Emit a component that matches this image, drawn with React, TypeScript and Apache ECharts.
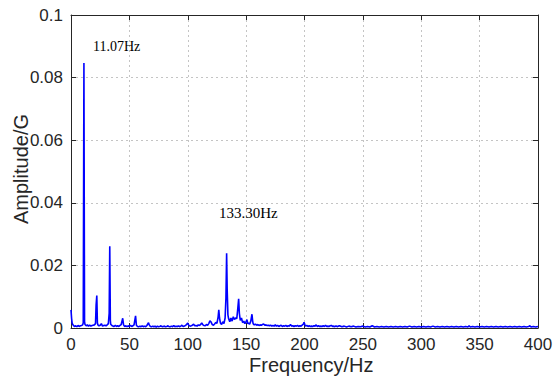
import React, { useEffect, useRef } from "react";
import * as echarts from "echarts";

// Spectrum: [frequency Hz, amplitude G]
const bandLow: [number, number][] = [
  [0, 0.0058], [0.5, 0.0031], [1, 0.0015], [2, 0.0008], [3, 0.0005], [4, 0.0007], [5, 0.0004],
  [6, 0.0008], [7, 0.0005], [8, 0.0007], [9, 0.0008], [10, 0.001], [10.5, 0.0017],
  [11.07, 0.0847], [11.6, 0.002], [12, 0.0011], [13, 0.0007], [14, 0.001], [15, 0.0006],
  [16, 0.0009], [17, 0.0006], [18, 0.0008], [19, 0.0009], [20, 0.001], [21, 0.0014],
  [21.5, 0.0073], [22.1, 0.0104], [22.6, 0.0017], [23, 0.001], [24, 0.0007], [25, 0.0009],
  [26, 0.0014], [27, 0.0006], [28, 0.0008], [29, 0.0009], [30, 0.0007], [31, 0.001],
  [32, 0.0014], [32.7, 0.0047], [33.2, 0.0261], [33.7, 0.0024], [34, 0.0012], [35, 0.0008],
  [36, 0.0006], [37, 0.0005], [38, 0.0008], [39, 0.0005], [40, 0.0007], [41, 0.0005],
  [42, 0.0008], [43, 0.0011], [44.3, 0.0031], [45, 0.001], [46, 0.0005], [47, 0.0007],
  [48, 0.0004], [49, 0.0007], [50, 0.0005], [51, 0.0008], [52, 0.0005], [53, 0.0007],
  [54, 0.001], [55.3, 0.0039], [56, 0.0009], [57, 0.0005], [58, 0.0004], [59, 0.0006],
  [60, 0.0004], [61, 0.0007], [62, 0.0004], [63, 0.0006], [64, 0.0004], [65, 0.0008],
  [66.4, 0.0017], [67, 0.001], [68, 0.0005], [69, 0.0004], [70, 0.0006],
];

const bandMid: [number, number][] = [
  [71, 0.0004], [72, 0.0006], [73, 0.0003], [74, 0.0006], [75, 0.0004], [76, 0.0005],
  [77, 0.0007], [78, 0.0004], [79, 0.0005], [80, 0.0006], [81, 0.0004], [82, 0.0005],
  [83, 0.0007], [84, 0.0004], [85, 0.0004], [86, 0.0006], [87, 0.0004], [88, 0.0008],
  [89, 0.0004], [90, 0.0006], [91, 0.0004], [92, 0.0007], [93, 0.0004], [94, 0.0006],
  [95, 0.0009], [96, 0.0005], [97, 0.0006], [98, 0.0008], [99, 0.0011], [100, 0.0016],
  [101, 0.0008], [102, 0.0006], [103, 0.0007], [104, 0.0009], [105, 0.0012], [106, 0.0007],
  [107, 0.0008], [108, 0.0006], [109, 0.001], [110, 0.0008], [111, 0.0011], [112, 0.0016],
  [113, 0.001], [114, 0.0008], [115, 0.0007], [116, 0.0011], [117, 0.0009], [118, 0.0014],
  [119, 0.0023], [120, 0.0019], [121, 0.0011], [122, 0.0009], [123, 0.0013], [124, 0.0018],
  [125, 0.0015], [126, 0.0035], [126.6, 0.0058], [127.2, 0.0032], [128, 0.0016], [129, 0.0011],
  [130, 0.002], [131, 0.0014], [132, 0.0032], [132.7, 0.0095], [133.3, 0.0239], [133.8, 0.012],
  [134.4, 0.0042], [135, 0.003], [136, 0.002], [137, 0.0032], [138, 0.0022], [139, 0.0036],
  [140, 0.0027], [141, 0.0032], [142, 0.003], [142.8, 0.006], [143.6, 0.0093], [144.2, 0.0047],
  [145, 0.0024], [146, 0.0032], [147, 0.0017], [148, 0.0022], [149, 0.0014], [150, 0.002],
  [150.7, 0.0027], [151.5, 0.0013], [152, 0.0016], [153, 0.0012], [154, 0.0022], [155, 0.0044],
  [155.6, 0.0022], [156, 0.0014], [157, 0.001], [158, 0.0012], [159, 0.0009], [160, 0.0011],
  [161, 0.0008], [162, 0.001], [163, 0.0009], [164, 0.0011], [165, 0.0013], [166, 0.0009],
  [167, 0.001], [168, 0.0008], [169, 0.0009], [170, 0.0007],
];

const bandHigh: [number, number][] = [
  [171, 0.0009], [172, 0.0006], [173, 0.0008], [174, 0.0006], [175, 0.001], [176, 0.0006],
  [177, 0.0008], [178, 0.0005], [179, 0.0007], [180, 0.0009], [181, 0.0005], [182, 0.0007],
  [183, 0.0006], [184, 0.0008], [185, 0.0005], [186, 0.0007], [187, 0.0006], [188, 0.0011],
  [189, 0.0006], [190, 0.0007], [191, 0.0005], [192, 0.0007], [193, 0.0006], [194, 0.0008],
  [195, 0.0005], [196, 0.0007], [197, 0.0006], [198, 0.0009], [199, 0.0012], [199.6, 0.0018],
  [200.3, 0.0011], [201, 0.0006], [202, 0.0008], [203, 0.0005], [204, 0.0007], [205, 0.0005],
  [206, 0.0006], [207, 0.0005], [208, 0.0007], [209, 0.0006], [210, 0.001], [211, 0.0005],
  [212, 0.0007], [213, 0.0005], [214, 0.0006], [215, 0.0005], [216, 0.0007], [217, 0.0005],
  [218, 0.0009], [219, 0.0005], [220, 0.0006], [221, 0.0005], [222, 0.0007], [223, 0.0008],
  [224, 0.0005], [225, 0.0006], [226, 0.0004], [227, 0.0007], [228, 0.0004], [229, 0.0006],
  [230, 0.0007], [232, 0.0004], [234, 0.0006], [236, 0.0003], [238, 0.0006], [240, 0.0004],
  [242, 0.0006], [244, 0.0003], [246, 0.0005], [248, 0.0004], [250, 0.0006], [252, 0.0003],
  [254, 0.0005], [256, 0.0003], [258, 0.0007], [260, 0.0003], [262, 0.0005], [264, 0.0003],
  [266, 0.0005], [268, 0.0003], [270, 0.0005], [272, 0.0003], [274, 0.0005], [276, 0.0003],
  [278, 0.0005], [280, 0.0003], [282, 0.0005], [284, 0.0003], [286, 0.0005], [288, 0.0003],
  [290, 0.0006], [292, 0.0003], [294, 0.0005], [296, 0.0003], [298, 0.0005], [300, 0.0003],
  [302, 0.0005], [304, 0.0003], [306, 0.0005], [308, 0.0003], [310, 0.0006], [312, 0.0003],
  [314, 0.0005], [316, 0.0003], [318, 0.0005], [320, 0.0003], [322, 0.0005], [324, 0.0003],
  [326, 0.0005], [328, 0.0003], [330, 0.0005], [332, 0.0003], [334, 0.0005], [336, 0.0003],
  [338, 0.0005], [340, 0.0003], [341, 0.0007], [342, 0.0003], [344, 0.0005], [346, 0.0003],
  [348, 0.0005], [350, 0.0003], [352, 0.0005], [354, 0.0003], [356, 0.0005], [358, 0.0003],
  [360, 0.0005], [362, 0.0003], [364, 0.0005], [366, 0.0003], [368, 0.0005], [370, 0.0003],
  [372, 0.0005], [374, 0.0003], [376, 0.0005], [378, 0.0003], [380, 0.0005], [382, 0.0003],
  [384, 0.0005], [386, 0.0003], [388, 0.0005], [390, 0.0003], [392, 0.0005], [393, 0.0007],
  [394, 0.0003], [396, 0.0005], [398, 0.0003], [400, 0.0005],
];

const peakLabels: { text: string; coord: [number, number]; size: number }[] = [
  { text: "11.07Hz", coord: [18.8, 0.0898], size: 14 },
  { text: "133.30Hz", coord: [126.8, 0.0367], size: 15 },
];

const xTicks = { min: 0, max: 400, interval: 50 };
const yTicks = { min: 0, max: 0.1, interval: 0.02 };

const axisColor = "#262626";
const sans = "Liberation Sans, Arial, sans-serif";

export default function App() {
  const ref = useRef<HTMLDivElement>(null);
  useEffect(() => {
    document.body.style.margin = "0";
    if (!ref.current) return;
    const chart = echarts.init(ref.current, null, { renderer: "svg" });
    const fmtY = (v: number) => String(parseFloat(v.toFixed(4)));
    const gridLine = { show: true, lineStyle: { color: "#c4c4c4", type: [2, 3] as number[], width: 1 } };
    const tick = { show: true, inside: true, length: 5, lineStyle: { color: axisColor } };
    chart.setOption({
      animation: false,
      backgroundColor: "#ffffff",
      grid: { left: 71, right: 20, top: 15, bottom: 54, containLabel: false },
      xAxis: [
        {
          type: "value", ...xTicks, position: "bottom",
          axisLine: { show: true, lineStyle: { color: axisColor } },
          axisTick: tick, splitLine: gridLine,
          axisLabel: { color: "#262626", fontFamily: sans, fontSize: 17, margin: 8 },
        },
        {
          type: "value", ...xTicks, position: "top",
          axisLine: { show: true, onZero: false, lineStyle: { color: axisColor } },
          axisTick: tick, splitLine: { show: false }, axisLabel: { show: false },
        },
      ],
      yAxis: [
        {
          type: "value", ...yTicks, position: "left",
          axisLine: { show: true, lineStyle: { color: axisColor } },
          axisTick: tick, splitLine: gridLine,
          axisLabel: { color: "#262626", fontFamily: sans, fontSize: 17, margin: 8, formatter: fmtY },
        },
        {
          type: "value", ...yTicks, position: "right",
          axisLine: { show: true, onZero: false, lineStyle: { color: axisColor } },
          axisTick: tick, splitLine: { show: false }, axisLabel: { show: false },
        },
      ],
      series: [
        {
          type: "line",
          xAxisIndex: 0, yAxisIndex: 0,
          data: [...bandLow, ...bandMid, ...bandHigh],
          showSymbol: false, symbol: "none",
          lineStyle: { color: "#0000ff", width: 1.6 },
          markPoint: {
            symbol: "circle", symbolSize: 0,
            data: peakLabels.map((p) => ({
              coord: p.coord,
              label: {
                show: true, formatter: p.text, position: [0, 0], align: "left", verticalAlign: "middle",
                fontFamily: "Liberation Serif, Times New Roman, serif", fontSize: p.size, color: "#000",
              },
            })),
          },
        },
      ],
      graphic: [
        {
          type: "text", left: 249, top: 355,
          style: { text: "Frequency/Hz", fontFamily: sans, fontSize: 20, fill: "#262626" },
        },
        {
          type: "text", x: 11, y: 224, rotation: Math.PI / 2,
          style: { text: "Amplitude/G", fontFamily: sans, fontSize: 20, fill: "#262626" },
        },
      ],
    });
    return () => chart.dispose();
  }, []);
  return <div ref={ref} style={{ width: 558, height: 382 }} />;
}
